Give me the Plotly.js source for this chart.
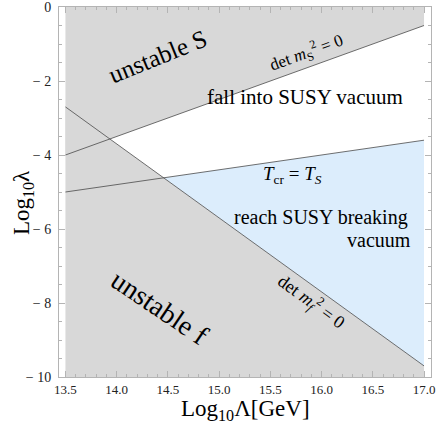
<!DOCTYPE html>
<html>
<head>
<meta charset="utf-8">
<script src="https://cdn.plot.ly/plotly-3.0.1.min.js"></script>
<style>
  html, body { margin: 0; padding: 0; background: #fff; }
  #graph { width: 436px; height: 427px; }
</style>
</head>
<body>
<div id="graph"></div>
<script>
// x range of the curves (Log10 Lambda) and the three boundary lines (Log10 lambda)
var xEnds = [13.5, 17.0]
var detS = [-4.0, -0.5]   // det m_S^2 = 0
var tcr = [-5.0, -3.6]    // T_cr = T_S
var detF = [-2.7, -9.7]   // det m_f^2 = 0
var yLims = [-10, 0]

var xTicks = [13.5, 14.0, 14.5, 15.0, 15.5, 16.0, 16.5, 17.0]
var yTicks = [0, -2, -4, -6, -8, -10]
var yTickText = ['0', '\u2212 2', '\u2212 4', '\u2212 6', '\u2212 8', '\u2212 10']

var grayFill = '#d8d8d8'
var blueFill = '#dcedfc'
var lineCol = '#4a4a4a'
var serif = 'Liberation Serif'

// line value at x, and where two lines cross
function at (line, x) {
  return line[0] + (line[1] - line[0]) * (x - xEnds[0]) / (xEnds[1] - xEnds[0])
}
function cross (a, b) {
  var sa = (a[1] - a[0]) / (xEnds[1] - xEnds[0])
  var sb = (b[1] - b[0]) / (xEnds[1] - xEnds[0])
  var t = (b[0] - a[0]) / (sa - sb)
  var x = xEnds[0] + t
  return [x, at(a, x)]
}

var pBlue = cross(tcr, detF)

var data = [
  { // unstable S
    x: [xEnds[0], xEnds[1], xEnds[1], xEnds[0]],
    y: [detS[0], detS[1], yLims[1], yLims[1]],
    fill: 'toself', fillcolor: grayFill, mode: 'none', type: 'scatter', hoverinfo: 'skip'
  },
  { // unstable f
    x: [xEnds[0], xEnds[1], xEnds[1], xEnds[0]],
    y: [detF[0], detF[1], yLims[0], yLims[0]],
    fill: 'toself', fillcolor: grayFill, mode: 'none', type: 'scatter', hoverinfo: 'skip'
  },
  { // reach SUSY breaking vacuum
    x: [pBlue[0], xEnds[1], xEnds[1]],
    y: [pBlue[1], tcr[1], detF[1]],
    fill: 'toself', fillcolor: blueFill, mode: 'none', type: 'scatter', hoverinfo: 'skip'
  },
  { x: xEnds, y: detS, mode: 'lines', type: 'scatter', line: { color: lineCol, width: 0.8 } },
  { x: xEnds, y: tcr, mode: 'lines', type: 'scatter', line: { color: lineCol, width: 0.8 } },
  { x: xEnds, y: detF, mode: 'lines', type: 'scatter', line: { color: lineCol, width: 0.8 } }
]

var axisBase = {
  showgrid: false,
  zeroline: false,
  showline: true,
  linecolor: '#b4b4b4',
  linewidth: 1,
  mirror: 'allticks',
  ticks: 'inside',
  ticklen: 6,
  tickcolor: '#b4b4b4',
  ticklabeloverflow: 'allow',
  tickfont: { family: serif, size: 14, color: '#222' }
}

var layout = {
  width: 436,
  height: 427,
  margin: { l: 59, r: 5, t: 7, b: 50 },
  paper_bgcolor: '#fff',
  plot_bgcolor: '#fff',
  showlegend: false,
  font: { family: serif },
  xaxis: Object.assign({}, axisBase, {
    range: [13.437, 17.068],
    tickvals: xTicks,
    ticktext: xTicks.map(function (v) { return v.toFixed(1) }),
    tickfont: { family: serif, size: 13, color: '#222' },
    minor: { dtick: 0.1, ticks: 'inside', ticklen: 3, tickcolor: '#b4b4b4' }
  }),
  yaxis: Object.assign({}, axisBase, {
    range: [yLims[0], yLims[1]],
    tickvals: yTicks,
    ticktext: yTickText,
    ticklabelstandoff: 4,
    minor: { dtick: 0.5, ticks: 'inside', ticklen: 3, tickcolor: '#b4b4b4' }
  }),
  annotations: [
    { x: 14.40, y: -1.33, text: 'unstable S', textangle: -22, showarrow: false,
      font: { family: serif, size: 25, color: '#000' } },
    { x: 15.85, y: -1.22, text: 'det <i>m</i><sub>S</sub><sup>2</sup> = 0', textangle: -20, showarrow: false,
      font: { family: serif, size: 17, color: '#000' } },
    { x: 15.84, y: -2.43, text: 'fall into SUSY vacuum', showarrow: false,
      font: { family: serif, size: 21, color: '#000' } },
    { x: 15.72, y: -4.53, text: '<i>T</i><sub>cr</sub> = <i>T</i><sub><i>S</i></sub>', showarrow: false,
      font: { family: serif, size: 19, color: '#000' } },
    { x: 15.99, y: -5.69, text: 'reach SUSY breaking', showarrow: false,
      font: { family: serif, size: 20, color: '#000' } },
    { x: 16.89, y: -6.31, text: 'vacuum', xanchor: 'right', showarrow: false,
      font: { family: serif, size: 20, color: '#000' } },
    { x: 15.90, y: -7.95, text: 'det <i>m</i><sub><i>f</i></sub><sup>2</sup> = 0', textangle: 36, showarrow: false,
      font: { family: serif, size: 18, color: '#000' } },
    { x: 14.42, y: -8.11, text: 'unstable f', textangle: 34, showarrow: false,
      font: { family: serif, size: 28, color: '#000' } },
    { xref: 'paper', yref: 'paper', x: 0.5, y: 0, yshift: -33, xanchor: 'center', yanchor: 'middle',
      text: 'Log<sub>10</sub>\u039b[GeV]', showarrow: false, font: { family: serif, size: 23, color: '#000' } },
    { xref: 'paper', yref: 'paper', x: 0, y: 0.47, xshift: -36, xanchor: 'center', yanchor: 'middle',
      text: 'Log<sub>10</sub>\u03bb', textangle: -90, showarrow: false, font: { family: serif, size: 23, color: '#000' } }
  ]
}

Plotly.newPlot('graph', data, layout, { displayModeBar: false, staticPlot: true })
</script>
</body>
</html>
